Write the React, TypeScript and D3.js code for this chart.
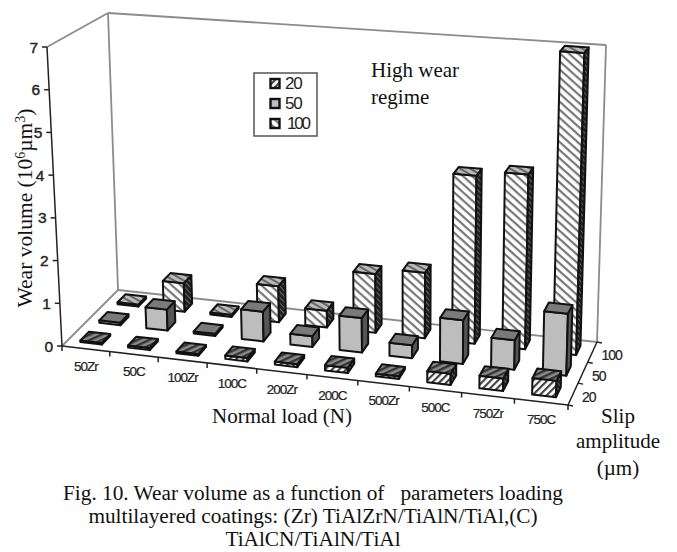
import React from "react";
import * as d3 from "d3";

const categories = ["50Zr","50C","100Zr","100C","200Zr","200C","500Zr","500C","750Zr","750C"];
const slips = ["20","50","100"];
const values20 = [0.04,0.05,0.04,0.08,0.07,0.12,0.06,0.25,0.28,0.36];
const values50 = [0.06,0.5,0.05,0.7,0.25,0.8,0.3,1.0,0.67,1.4];
const values100 = [0.05,0.7,0.05,0.87,0.4,1.4,1.55,3.95,4.08,7.0];
const yTicks = [0,1,2,3,4,5,6,7];

type P = [number, number];
// unit-square to quad homography: corners at (0,0),(1,0),(1,1),(0,1)
function quad(p0: P, p1: P, p2: P, p3: P) {
  const dx1 = p1[0]-p2[0], dx2 = p3[0]-p2[0], sx = p0[0]-p1[0]+p2[0]-p3[0];
  const dy1 = p1[1]-p2[1], dy2 = p3[1]-p2[1], sy = p0[1]-p1[1]+p2[1]-p3[1];
  const den = dx1*dy2-dx2*dy1;
  const g = (sx*dy2-dx2*sy)/den, h = (dx1*sy-sx*dy1)/den;
  const a = p1[0]-p0[0]+g*p1[0], b = p3[0]-p0[0]+h*p3[0], c = p0[0];
  const d = p1[1]-p0[1]+g*p1[1], e = p3[1]-p0[1]+h*p3[1], f = p0[1];
  return (u: number, v: number): P => {
    const w = g*u+h*v+1;
    return [(a*u+b*v+c)/w, (d*u+e*v+f)/w];
  };
}
const floorFL: P=[62,346], floorFR: P=[568,405], floorBR: P=[597,342], floorBL: P=[118,290];
const topFL: P=[47,47], topFR: P=[576.5,84], topBR: P=[606,45], topBL: P=[108,13];
const floor = quad(floorFL,floorFR,floorBR,floorBL);
const ceil = quad(topFL,topFR,topBR,topBL);

const uScale = d3.scaleBand<string>().domain(categories).range([0,1]).paddingInner(0.55).paddingOuter(0.275);
const uSlot = d3.scaleBand<string>().domain(categories).range([0,1]);
const vScale = d3.scaleBand<string>().domain(slips).range([0,1]).paddingInner(0.55).paddingOuter(0.275);
const vSlot = d3.scaleBand<string>().domain(slips).range([0,1]);
const hScale = d3.scaleLinear().domain([0,7]).range([0,1]);

function proj(u:number,v:number,val:number):P{
  const a=floor(u,v), b=ceil(u,v), t=hScale(val);
  return [a[0]+(b[0]-a[0])*t, a[1]+(b[1]-a[1])*t];
}
const path=(pts:P[])=>(d3.line()(pts) as string)+"Z";
const lineOf=(a:P,b:P)=>(d3.line()([a,b]) as string);

const styles:Record<string,{front:string;top:string;side:string}>={
  "20":{front:"url(#h20)",top:"url(#h20top)",side:"url(#hdark)"},
  "50":{front:"#bdbdbd",top:"#7a7a7a",side:"#555"},
  "100":{front:"url(#h100)",top:"url(#h100top)",side:"url(#hdark)"},
};

function Bar({cat,slip,val}:{cat:string;slip:string;val:number}){
  const u0=uScale(cat)!, u1=u0+uScale.bandwidth();
  const v0=vScale(slip)!, v1=v0+vScale.bandwidth();
  const s=styles[slip];
  const a=proj(u0,v0,0),b=proj(u1,v0,0),c=proj(u1,v1,0);
  const A=proj(u0,v0,val),B=proj(u1,v0,val),C=proj(u1,v1,val),D=proj(u0,v1,val);
  const st={stroke:"#111",strokeWidth:2,strokeLinejoin:"round" as const};
  return <g>
    <path d={path([a,b,B,A])} fill={s.front} {...st}/>
    <path d={path([b,c,C,B])} fill={s.side} {...st}/>
    <path d={path([A,B,C,D])} fill={s.top} {...st}/>
  </g>;
}

const series:[string,number[]][]=[["100",values100],["50",values50],["20",values20]];
const serif="'Liberation Serif',serif";
const sans="'Liberation Sans',sans-serif";

export default function App(){
  const wall="#8c8c8c";
  return <svg width={677} height={552} style={{position:"absolute",left:0,top:0,background:"#fff"}}>
    <defs>
      <pattern id="h20" width={5} height={5} patternUnits="userSpaceOnUse" patternTransform="rotate(-45)">
        <rect width={5} height={5} fill="#fff"/><rect width={5} height={2.2} fill="#444"/>
      </pattern>
      <pattern id="h20top" width={5} height={5} patternUnits="userSpaceOnUse" patternTransform="rotate(65)">
        <rect width={5} height={5} fill="#8a8a8a"/><rect width={2.4} height={5} fill="#333"/>
      </pattern>
      <pattern id="h100" width={6} height={6} patternUnits="userSpaceOnUse" patternTransform="rotate(42)">
        <rect width={6} height={6} fill="#fff"/><rect width={6} height={2.2} fill="#777"/>
      </pattern>
      <pattern id="h100top" width={5} height={5} patternUnits="userSpaceOnUse" patternTransform="rotate(30)">
        <rect width={5} height={5} fill="#bbb"/><rect width={5} height={2} fill="#666"/>
      </pattern>
      <pattern id="hdark" width={4} height={4} patternUnits="userSpaceOnUse" patternTransform="rotate(45)">
        <rect width={4} height={4} fill="#222"/><rect width={4} height={1} fill="#666"/>
      </pattern>
    </defs>

    {/* walls */}
    <g fill="none" stroke={wall} strokeWidth={1.8}>
      <path d={lineOf(topFL,topBL)}/>
      <path d={lineOf(topBL,topBR)}/>
      <path d={lineOf(topBR,floorBR)}/>
      <path d={lineOf(topBL,floorBL)}/>
      <path d={lineOf(floorFL,floorBL)}/>
      <path d={lineOf(floorBL,floorBR)}/>
    </g>
    {/* axes */}
    <g fill="none" stroke="#222" strokeWidth={1.5}>
      <path d={lineOf(floorFL,topFL)}/>
      <path d={lineOf(floorFL,floorFR)}/>
      <path d={lineOf(floorFR,floorBR)}/>
      {yTicks.map(t=>{const p=proj(0,0,t);return <path key={t} d={lineOf(p,[p[0]-5,p[1]])}/>;})}
      {d3.range(0,categories.length+1).map(i=>{const p=floor(i/categories.length,0);return <path key={i} d={lineOf(p,[p[0],p[1]+5])}/>;})}
      {d3.range(0,slips.length+1).map(i=>{const p=floor(1,i/slips.length);return <path key={i} d={lineOf(p,[p[0]+5,p[1]+1])}/>;})}
    </g>
    {yTicks.map(t=>{const p=proj(0,0,t);return <text key={t} x={p[0]-9} y={p[1]+5.5} textAnchor="end" fontFamily={sans} fontSize={15.5} stroke="#222" strokeWidth={0.4} fill="#222">{t}</text>;})}
    {categories.map(c=>{const p=floor(uSlot(c)!+uSlot.bandwidth()/2,0);return <text key={c} x={p[0]} y={p[1]+22} textAnchor="middle" fontFamily={sans} fontSize={13.5} letterSpacing={-1} stroke="#222" strokeWidth={0.2} fill="#222">{c}</text>;})}
    {slips.map(s=>{const p=floor(1,vSlot(s)!+vSlot.bandwidth()/2);return <text key={s} x={p[0]+9} y={p[1]+8} fontFamily={sans} fontSize={14} letterSpacing={-1} stroke="#222" strokeWidth={0.2} fill="#222">{s}</text>;})}

    {/* bars: back to front */}
    {series.map(([slip,vals])=><g key={slip}>{categories.map((c,i)=><Bar key={c} cat={c} slip={slip} val={vals[i]}/>)}</g>)}

    {/* legend */}
    <rect x={254} y={73} width={63} height={63} fill="#fff" stroke="#555" strokeWidth={1.5}/>
    {slips.map((s,i)=>{
      const y=78+i*20;
      const fill=i===0?"url(#h20)":i===1?"#bdbdbd":"url(#h100)";
      return <g key={s}>
        <rect x={270.5} y={y+1} width={9} height={9} fill={fill} stroke="#111" strokeWidth={2.4}/>
        <text x={i===2?287:285} y={y+11} fontFamily={sans} fontSize={17} letterSpacing={i===2?-2.2:-1.2} fill="#222">{s}</text>
      </g>;
    })}

    <g fontFamily={serif} fill="#111">
      <text x={371} y={77} fontSize={21}>High wear</text>
      <text x={371} y={104} fontSize={21}>regime</text>
      <text transform="translate(32,208) rotate(-90)" textAnchor="middle" fontSize={21.5}>Wear volume (10<tspan dy={-7} fontSize={14}>6</tspan><tspan dy={7}>µm</tspan><tspan dy={-7} fontSize={14}>3</tspan><tspan dy={7}>)</tspan></text>
      <text x={282} y={423} textAnchor="middle" fontSize={21}>Normal load (N)</text>
      <g textAnchor="middle" fontSize={21}>
        <text x={618} y={423}>Slip</text>
        <text x={618} y={448}>amplitude</text>
        <text x={618} y={475}>(µm)</text>
      </g>
      <g textAnchor="middle" fontSize={21.3}>
        <text x={313} y={500} xmlSpace="preserve">Fig. 10. Wear volume as a function of   parameters loading</text>
        <text x={313} y={523}>multilayered coatings: (Zr) TiAlZrN/TiAlN/TiAl,(C)</text>
        <text x={313} y={546}>TiAlCN/TiAlN/TiAl</text>
      </g>
    </g>
  </svg>;
}
